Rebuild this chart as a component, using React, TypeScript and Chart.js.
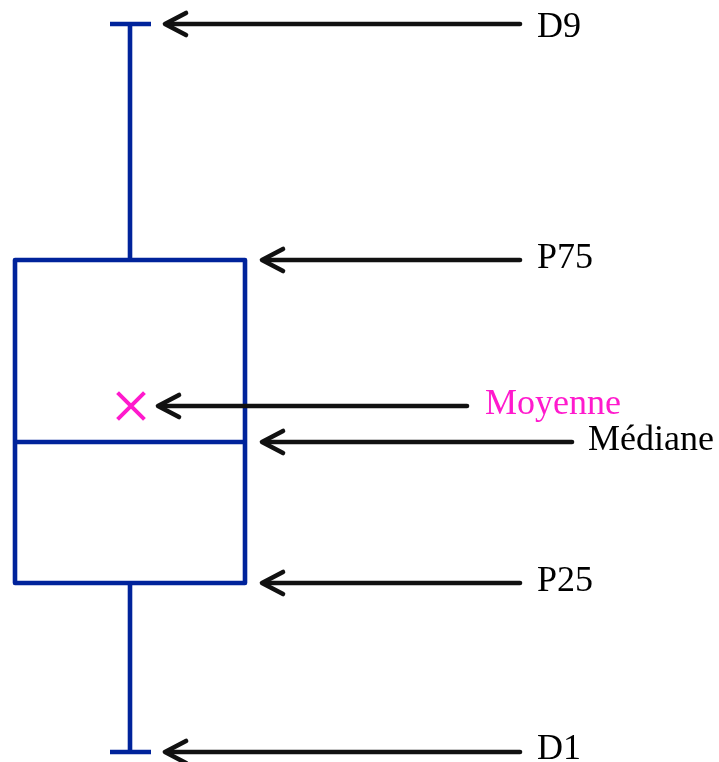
import React, { useEffect, useRef } from 'react';
import { Chart, registerables } from 'chart.js';

Chart.register(...registerables);

// Statistic labels and their values (arbitrary vertical units)
const statLabels = ['D9', 'P75', 'Moyenne', 'Médiane', 'P25', 'D1'];
const statValues = [738, 502, 356, 320, 179, 10];

const d9 = statValues[0];
const p75 = statValues[1];
const mean = statValues[2];
const median = statValues[3];
const p25 = statValues[4];
const d1 = statValues[5];

const W = 719;
const H = 762;

const BLUE = '#00239b';
const MAGENTA = '#ff1acd';
const ARROW = '#111111';

// layout (horizontal positions in x-scale units)
const BOX_LEFT = 15;
const BOX_RIGHT = 245;
const BOX_MID = 130;
const CAP_HALF = 20;
const MEAN_X = 131;

// per-label arrow layout: tip x, tail x, text x, colour
const arrowLayout: Record<string, { tip: number; tail: number; text: number; color: string }> = {
  D9: { tip: 165, tail: 520, text: 537, color: '#000000' },
  P75: { tip: 262, tail: 520, text: 537, color: '#000000' },
  Moyenne: { tip: 158, tail: 467, text: 485, color: MAGENTA },
  'Médiane': { tip: 262, tail: 572, text: 588, color: '#000000' },
  P25: { tip: 262, tail: 520, text: 537, color: '#000000' },
  D1: { tip: 165, tail: 520, text: 537, color: '#000000' },
};

const boxPlugin = {
  id: 'boxDiagram',
  beforeDatasetsDraw(chart: any) {
    const { ctx, scales } = chart;
    const x = scales.x;
    const y = scales.y;
    ctx.save();
    ctx.strokeStyle = BLUE;
    ctx.lineWidth = 4.6;
    ctx.lineJoin = 'round';
    ctx.lineCap = 'butt';
    const xl = x.getPixelForValue(BOX_LEFT);
    const xr = x.getPixelForValue(BOX_RIGHT);
    const xm = x.getPixelForValue(BOX_MID);
    const yTop = y.getPixelForValue(p75);
    const yBot = y.getPixelForValue(p25);
    const yMed = y.getPixelForValue(median);
    const yD9 = y.getPixelForValue(d9);
    const yD1 = y.getPixelForValue(d1);
    // box
    ctx.beginPath();
    ctx.rect(xl, yTop, xr - xl, yBot - yTop);
    ctx.stroke();
    // median
    ctx.beginPath();
    ctx.moveTo(xl, yMed);
    ctx.lineTo(xr, yMed);
    ctx.stroke();
    // whiskers
    ctx.beginPath();
    ctx.moveTo(xm, yTop);
    ctx.lineTo(xm, yD9);
    ctx.moveTo(xm, yBot);
    ctx.lineTo(xm, yD1);
    ctx.stroke();
    // caps
    ctx.beginPath();
    ctx.moveTo(x.getPixelForValue(BOX_MID - CAP_HALF), yD9);
    ctx.lineTo(x.getPixelForValue(BOX_MID + CAP_HALF + 1), yD9);
    ctx.moveTo(x.getPixelForValue(BOX_MID - CAP_HALF), yD1);
    ctx.lineTo(x.getPixelForValue(BOX_MID + CAP_HALF + 1), yD1);
    ctx.stroke();
    ctx.restore();
  },
  afterDatasetsDraw(chart: any) {
    const { ctx, scales } = chart;
    const x = scales.x;
    const y = scales.y;
    ctx.save();
    statLabels.forEach((label, i) => {
      const lay = arrowLayout[label];
      const py = y.getPixelForValue(statValues[i]);
      const tip = x.getPixelForValue(lay.tip);
      const tail = x.getPixelForValue(lay.tail);
      ctx.strokeStyle = ARROW;
      ctx.lineWidth = 4.6;
      ctx.lineCap = 'round';
      ctx.lineJoin = 'round';
      ctx.beginPath();
      ctx.moveTo(tail, py);
      ctx.lineTo(tip + 2, py);
      ctx.stroke();
      ctx.beginPath();
      ctx.moveTo(tip + 21, py - 11);
      ctx.lineTo(tip, py);
      ctx.lineTo(tip + 21, py + 11);
      ctx.stroke();
      ctx.fillStyle = lay.color;
      ctx.font = '36px "Liberation Serif", "Times New Roman", serif';
      ctx.textAlign = 'left';
      ctx.textBaseline = 'alphabetic';
      // keep the label inside the canvas
      const baseline = Math.min(Math.max(py + 8, 37), H - 3);
      ctx.fillText(label, x.getPixelForValue(lay.text), baseline);
    });
    ctx.restore();
  },
};

export default function App() {
  const canvasRef = useRef<HTMLCanvasElement | null>(null);

  useEffect(() => {
    const canvas = canvasRef.current;
    if (!canvas) return;
    const chart = new Chart(canvas, {
      type: 'scatter',
      data: {
        datasets: [
          {
            label: 'Moyenne',
            data: [{ x: MEAN_X, y: mean }],
            pointStyle: 'crossRot',
            pointRadius: 19,
            pointBorderWidth: 4,
            borderColor: MAGENTA,
            backgroundColor: MAGENTA,
            clip: false,
          } as any,
        ],
      },
      options: {
        responsive: false,
        animation: false,
        devicePixelRatio: 1,
        layout: { padding: 0, autoPadding: false },
        plugins: {
          legend: { display: false },
          tooltip: { enabled: false },
        },
        scales: {
          x: { type: 'linear', min: 0, max: W, display: false },
          y: { type: 'linear', min: 0, max: H, display: false },
        },
      },
      plugins: [boxPlugin],
    });
    return () => chart.destroy();
  }, []);

  return (
    <div style={{ position: 'absolute', left: 0, top: 0, width: W, height: H, background: '#ffffff' }}>
      <canvas ref={canvasRef} width={W} height={H} style={{ display: 'block', width: W, height: H }} />
    </div>
  );
}
